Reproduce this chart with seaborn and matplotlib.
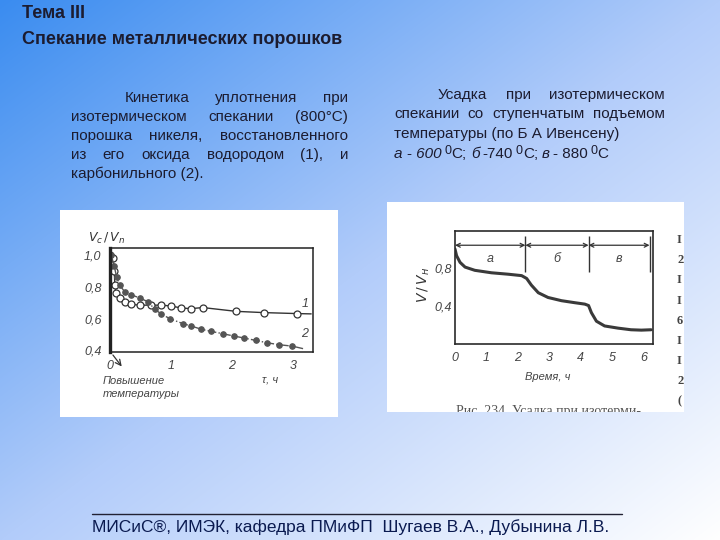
import numpy as np
import matplotlib
matplotlib.use('Agg')
import matplotlib.pyplot as plt
from matplotlib.lines import Line2D
import seaborn as sns

# left chart: densification kinetics, curves 1 (open circles) and 2 (filled dots)
t1 = [0.0, 0.05, 0.07, 0.08, 0.10, 0.16, 0.24, 0.35, 0.49, 0.68, 0.84, 1.00,
      1.17, 1.33, 1.52, 2.07, 2.53, 3.07, 3.30]
v1 = [1.00, 0.98, 0.90, 0.81, 0.76, 0.73, 0.705, 0.69, 0.685, 0.685, 0.685,
      0.68, 0.667, 0.663, 0.67, 0.646, 0.638, 0.632, 0.63]
t2 = [0.02, 0.07, 0.11, 0.16, 0.24, 0.35, 0.49, 0.63, 0.73, 0.84, 0.98, 1.20,
      1.33, 1.50, 1.66, 1.85, 2.04, 2.20, 2.39, 2.58, 2.77, 2.99, 3.18]
v2 = [1.00, 0.93, 0.86, 0.81, 0.77, 0.75, 0.73, 0.705, 0.66, 0.63, 0.60, 0.568,
      0.554, 0.533, 0.52, 0.505, 0.49, 0.478, 0.463, 0.448, 0.436, 0.427, 0.41]
y1_ticks = [0.4, 0.6, 0.8, 1.0]
y1_labels = ['0,4', '0,6', '0,8', '1,0']
x1_ticks = [0, 1, 2, 3]

# right chart: shrinkage with stepwise temperature rise
t3 = [0.0, 0.05, 0.16, 0.32, 0.63, 1.16, 1.69, 2.12, 2.28, 2.43, 2.65, 2.96,
      3.39, 3.81, 4.13, 4.25, 4.34, 4.50, 4.76, 5.19, 5.60, 5.93, 6.24]
v3 = [1.00, 0.93, 0.86, 0.81, 0.776, 0.75, 0.735, 0.72, 0.69, 0.62, 0.54, 0.49,
      0.456, 0.435, 0.42, 0.405, 0.33, 0.24, 0.19, 0.167, 0.15, 0.146, 0.15]
stage_bounds = [0.0, 2.24, 4.25, 6.19]
stage_names = ['а', 'б', 'в']
y3_ticks = [0.4, 0.8]
y3_labels = ['0,4', '0,8']
x3_ticks = [0, 1, 2, 3, 4, 5, 6]

W, H = 720, 540
INK = '#1c1c30'
GRAPH = '#333333'
BODY = 11


def fx(px):
    return px / W


def fy(py):
    return 1 - py / H


def axes_px(fig, l, t, r, b):
    return fig.add_axes([fx(l), fy(b), (r - l) / W, (b - t) / H])


def justify(fig, line, x0, x1, y, **kw):
    # y is the line's middle; words sit on a common baseline
    words = line.split()
    r = fig.canvas.get_renderer()
    texts = [fig.text(0, fy(y + 4), w, va='baseline', **kw) for w in words]
    widths = [t.get_window_extent(r).width for t in texts]
    gap = (x1 - x0 - sum(widths)) / max(len(words) - 1, 1)
    x = x0
    for t, w in zip(texts, widths):
        t.set_x(fx(x))
        x += w + gap


def run(fig, pieces, x, y):
    r = fig.canvas.get_renderer()
    for s, kw, dy, gap in pieces:
        t = fig.text(fx(x), fy(y + 4 - dy), s, va='baseline', **kw)
        x += t.get_window_extent(r).width + gap


sns.set_style('white')
plt.rcParams['font.family'] = ['Liberation Sans', 'DejaVu Sans']

fig = plt.figure(figsize=(7.2, 5.4), dpi=100)

# gradient background
bg = fig.add_axes([0, 0, 1, 1])
yy, xx = np.mgrid[0:H, 0:W]
s = xx / W + yy / H
c0 = np.array([58, 140, 240]) / 255
c1 = np.array([178, 204, 250]) / 255
c2 = np.array([255, 255, 255]) / 255
a = np.clip(s, 0, 1)[..., None]
b = np.clip(s - 1, 0, 1)[..., None]
img = np.where(s[..., None] <= 1, c0 + (c1 - c0) * a, c1 + (c2 - c1) * b)
bg.imshow(img, aspect='auto', extent=[0, 1, 0, 1])
bg.set_axis_off()
bg.set_zorder(-5)

# titles
fig.text(fx(22), fy(14), 'Тема III', fontsize=13, fontweight='bold', color=INK, va='center')
fig.text(fx(22), fy(39), 'Спекание металлических порошков', fontsize=13,
         fontweight='bold', color=INK, va='center')

# left description
left_lines = ['Кинетика уплотнения при',
              'изотермическом спекании (800°С)',
              'порошка никеля, восстановленного',
              'из его оксида водородом (1), и']
justify(fig, left_lines[0], 125, 348, 98, fontsize=BODY, color=INK)
for i, ln in enumerate(left_lines[1:]):
    justify(fig, ln, 71, 348, 117 + 19 * i, fontsize=BODY, color=INK)
fig.text(fx(71), fy(178), 'карбонильного (2).', fontsize=BODY, color=INK, va='baseline')

# right description
justify(fig, 'Усадка при изотермическом', 438, 665, 95, fontsize=BODY, color=INK)
justify(fig, 'спекании со ступенчатым подъемом', 394, 665, 114, fontsize=BODY, color=INK)
fig.text(fx(394), fy(138), 'температуры (по Б А Ивенсену)', fontsize=BODY, color=INK,
         va='baseline')
it = dict(fontsize=BODY, color=INK, style='italic')
rg = dict(fontsize=BODY, color=INK)
sp = dict(fontsize=9, color=INK)
run(fig, [('а - 600', it, 0, 3), ('0', sp, 4, 0), ('С;', rg, 0, 4),
          ('б', it, 0, 3), ('-740', rg, 0, 3), ('0', sp, 4, 0), ('С;', rg, 0, 4),
          ('в', it, 0, 3), ('- 880', rg, 0, 3), ('0', sp, 4, 0), ('С', rg, 0, 0)],
    394, 154)

# white panels
pan1 = axes_px(fig, 60, 210, 338, 417)
pan2 = axes_px(fig, 387, 202, 684, 412)
for p in (pan1, pan2):
    p.set_facecolor('white')
    p.set_xticks([])
    p.set_yticks([])
    p.set_xlim(0, 1)
    p.set_ylim(0, 1)
    for sp_ in p.spines.values():
        sp_.set_visible(False)

# ---- left chart
ax1 = axes_px(fig, 110, 248, 313, 352)
ax1.set_facecolor('none')
sns.lineplot(x=t1, y=v1, ax=ax1, color=GRAPH, lw=1.0, marker='o', markersize=5,
             markerfacecolor='white', markeredgecolor=GRAPH, markeredgewidth=0.9,
             markevery=list(range(len(t1) - 1)))
sns.lineplot(x=t2, y=v2, ax=ax1, color='#555555', lw=1.0, linestyle='-.', marker='o',
             markersize=4, markerfacecolor='#555555', markeredgecolor='#555555',
             markevery=list(range(len(t2) - 1)))
ax1.set_xlim(0, 3.33)
ax1.set_ylim(0.39, 1.045)
ax1.set_xticks(x1_ticks)
ax1.set_xticklabels([str(v) for v in x1_ticks], fontsize=9, style='italic', color='#444444')
ax1.set_yticks(y1_ticks)
ax1.set_yticklabels(y1_labels, fontsize=9, style='italic', color='#444444')
ax1.tick_params(direction='in', length=4, width=1, colors='#333333', labelcolor='#444444', pad=6)
for name, sp_ in ax1.spines.items():
    sp_.set_color('#222222')
    sp_.set_linewidth(2.4 if name == 'left' else 1.1)
ax1.set_xlabel('')
ax1.set_ylabel('')
ax1.text(3.2, 0.69, '1', fontsize=9, style='italic', color='#444444', ha='center', va='center')
ax1.text(3.2, 0.505, '2', fontsize=9, style='italic', color='#444444', ha='center', va='center')
ax1.annotate('', xy=(0.22, 0.285), xytext=(0.02, 0.385), annotation_clip=False,
             arrowprops=dict(arrowstyle='->', color='#333333', lw=0.9))
fig.text(fx(88), fy(238), r'$V_c\,/\,V_n$', fontsize=9, color='#333333', va='center')
fig.text(fx(103), fy(381), 'Повышение', fontsize=8, style='italic', color='#444444', va='center')
fig.text(fx(103), fy(394), 'температуры', fontsize=8, style='italic', color='#444444', va='center')
fig.text(fx(262), fy(380), 'τ, ч', fontsize=8, style='italic', color='#444444', va='center')

# ---- right chart
ax2 = axes_px(fig, 455, 231, 653, 344)
ax2.set_facecolor('none')
sns.lineplot(x=t3, y=v3, ax=ax2, color='#3a3a3a', lw=2.2)
ax2.set_xlim(0, 6.3)
ax2.set_ylim(0, 1.19)
ax2.set_xticks(x3_ticks)
ax2.set_xticklabels([str(v) for v in x3_ticks], fontsize=9, style='italic', color='#444444')
ax2.set_yticks(y3_ticks)
ax2.set_yticklabels(y3_labels, fontsize=9, style='italic', color='#444444')
ax2.tick_params(direction='in', length=5, width=1, colors='#333333', labelcolor='#444444', pad=6)
ax2.tick_params(axis='y', pad=2)
for sp_ in ax2.spines.values():
    sp_.set_color('#2a2a2a')
    sp_.set_linewidth(1.2)
ax2.set_xlabel('')
ax2.set_ylabel('')
for lo, hi, nm in zip(stage_bounds[:-1], stage_bounds[1:], stage_names):
    ax2.annotate('', xy=(lo, 1.04), xytext=(hi, 1.04),
                 arrowprops=dict(arrowstyle='<->', color='#333333', lw=0.9,
                                 shrinkA=0, shrinkB=0, mutation_scale=7))
    ax2.text((lo + hi) / 2, 0.9, nm, fontsize=9, style='italic', color='#444444',
             ha='center', va='center')
ax2.vlines(stage_bounds[1:], 0.76, 1.14, color='#333333', lw=1.0)
fig.text(fx(424), fy(285), r'$V\,/\,V_{н}$', fontsize=10, color='#333333',
         rotation=90, ha='center', va='center')
fig.text(fx(548), fy(377), 'Время, ч', fontsize=8, style='italic', color='#444444',
         ha='center', va='center')
pan2.text((548 - 387) / 297, 1 - (412 - 202) / 210, 'Рис. 234. Усадка при изотерми-',
          fontsize=10, color='#555555', ha='center', va='center', clip_on=True,
          family='Liberation Serif')
for k, ch in enumerate(['I', '2', 'I', 'I', '6', 'I', 'I', '2', '(']):
    pan2.text((677 - 387) / 297, 1 - (240 + 20.2 * k - 202) / 210, ch, fontsize=9,
              color='#444444', ha='left', va='center', clip_on=True,
              family='Liberation Serif', fontweight='bold')

# footer
fig.add_artist(Line2D([fx(92), fx(622)], [fy(514), fy(514)], color='#222233', lw=1))
fig.text(fx(92), fy(527), 'МИСиС®, ИМЭК, кафедра ПМиФП  Шугаев В.А., Дубынина Л.В.',
         fontsize=12.5, color='#0a1a50', va='center')

fig.savefig('out.png', dpi=100)
